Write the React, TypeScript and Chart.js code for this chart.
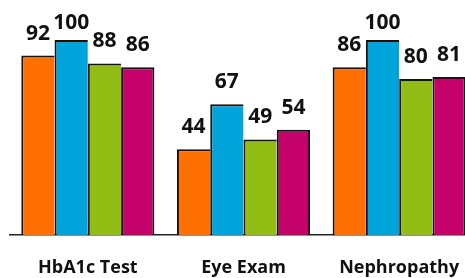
import React, { useEffect, useRef } from "react";
import { Chart, registerables } from "chart.js";

Chart.register(...registerables);

const categories = ["HbA1c Test", "Eye Exam", "Nephropathy"];
const seriesA = [92, 44, 86];
const seriesB = [100, 67, 100];
const seriesC = [88, 49, 80];
const seriesD = [86, 54, 81];
const seriesColors = ["#FF7000", "#00A3DA", "#92BD14", "#C4006A"];

const valueLabels = {
  id: "valueLabels",
  afterDatasetsDraw(chart: any) {
    const ctx = chart.ctx;
    ctx.save();
    ctx.font = "bold 21px 'Open Sans'";
    ctx.fillStyle = "#111111";
    ctx.textAlign = "center";
    ctx.textBaseline = "alphabetic";
    chart.data.datasets.forEach((ds: any, di: number) => {
      const meta = chart.getDatasetMeta(di);
      meta.data.forEach((bar: any, i: number) => {
        const y = Math.max(bar.y - 16, 29);
        ctx.fillText(String(ds.data[i]), bar.x, y);
      });
    });
    ctx.restore();
  },
};

export default function App() {
  const ref = useRef<HTMLCanvasElement>(null);
  useEffect(() => {
    if (!ref.current) return;
    const series = [seriesA, seriesB, seriesC, seriesD];
    const chart = new Chart(ref.current, {
      type: "bar",
      data: {
        labels: categories,
        datasets: series.map((d, i) => ({
          label: "S" + (i + 1),
          data: d,
          backgroundColor: seriesColors[i],
          borderColor: "#111111",
          borderSkipped: false,
          borderWidth:
            i === 3
              ? { top: 2, left: 2, right: 2, bottom: 0 }
              : { top: 2, left: 2, right: 0, bottom: 0 },
          categoryPercentage: 0.855,
          barPercentage: 1.0,
        })),
      },
      options: {
        animation: false,
        responsive: true,
        maintainAspectRatio: false,
        layout: { padding: { left: 10, right: 10, top: 40, bottom: 0 } },
        plugins: { legend: { display: false }, tooltip: { enabled: false } },
        scales: {
          x: {
            grid: { display: false, drawTicks: false },
            border: { display: true, color: "#222222", width: 1.5 },
            ticks: {
              padding: 22,
              color: "#111111",
              maxRotation: 0,
              font: { family: "'Open Sans'", weight: "bold", size: 18 },
            },
            afterFit: (scale: any) => {
              scale.height = 43;
            },
          },
          y: {
            display: false,
            min: 0,
            max: 100,
          },
        },
      },
      plugins: [valueLabels],
    });
    return () => chart.destroy();
  }, []);
  return (
    <div style={{ position: "fixed", left: 0, top: 0, width: 465, height: 278, overflow: "hidden", background: "#fff" }}>
      <div style={{ position: "relative", width: 487, height: 278 }}>
        <canvas ref={ref} />
      </div>
    </div>
  );
}
